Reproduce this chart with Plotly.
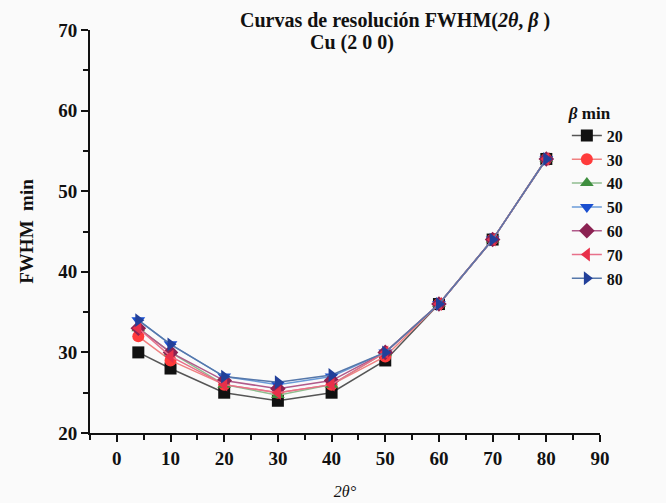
import plotly.graph_objects as go

two_theta = [4, 10, 20, 30, 40, 50, 60, 70, 80]
beta_labels = ["20", "30", "40", "50", "60", "70", "80"]
fwhm_b20 = [30, 28, 25, 24, 25, 29, 36, 44, 54]
fwhm_b30 = [32, 29, 26, 25, 26, 29.5, 36, 44, 54]
fwhm_b40 = [33, 30, 26, 24.7, 26, 30, 36, 44, 54]
fwhm_b50 = [34, 31, 27, 26, 27, 30, 36, 44, 54]
fwhm_b60 = [33, 30, 26.5, 25.5, 26.5, 30, 36, 44, 54]
fwhm_b70 = [33, 29.5, 26, 25, 26, 30, 36, 44, 54]
fwhm_b80 = [34, 31, 27, 26.3, 27.2, 30, 36, 44, 54]
series = [fwhm_b20, fwhm_b30, fwhm_b40, fwhm_b50, fwhm_b60, fwhm_b70, fwhm_b80]

symbols = ["square", "circle", "triangle-up", "triangle-down", "diamond", "triangle-left", "triangle-right"]
marker_colors = ["#111111", "#ff3b3b", "#3f8f3f", "#1a4fd0", "#8b2252", "#e8304a", "#22409a"]
line_colors = ["#555555", "#f08080", "#8fbc8f", "#6a9bd8", "#b05a8a", "#e8708a", "#5577aa"]

FONT = "Liberation Serif"

fig = go.Figure()
for lab, ys, sym, mc, lc in zip(beta_labels, series, symbols, marker_colors, line_colors):
    fig.add_trace(go.Scatter(
        x=two_theta, y=ys, name=lab, mode="lines+markers",
        line=dict(color=lc, width=1.5),
        marker=dict(symbol=sym, size=12, color=mc),
    ))

fig.update_layout(
    width=666, height=503,
    margin=dict(l=90, r=66, t=30, b=70),
    paper_bgcolor="#fafafa", plot_bgcolor="#fafafa",
    font=dict(family=FONT, size=18, color="#111111"),
    showlegend=True,
    legend=dict(
        x=0.935, y=0.835, xanchor="left", yanchor="top",
        bgcolor="rgba(0,0,0,0)",
        title=dict(text="<b><i>β</i> min</b>", font=dict(family=FONT, size=17)),
        font=dict(family=FONT, size=16, weight="bold"),
        tracegroupgap=0, itemwidth=30,
    ),
    xaxis=dict(
        range=[-5, 90], tickvals=[0, 10, 20, 30, 40, 50, 60, 70, 80, 90],
        automargin=False,
        showline=True, linecolor="#111111", linewidth=2,
        ticks="outside", ticklen=7, tickwidth=2, tickcolor="#111111",
        minor=dict(dtick=5, tick0=-5, ticks="outside", ticklen=5, tickwidth=1.5, tickcolor="#111111"),
        showgrid=False, zeroline=False,
        tickfont=dict(family=FONT, size=19, weight="bold"),
        title=dict(text="<i>2θ°</i>", font=dict(family=FONT, size=16), standoff=18),
    ),
    yaxis=dict(
        range=[20, 70], tickvals=[20, 30, 40, 50, 60, 70],
        automargin=False,
        showline=True, linecolor="#111111", linewidth=2,
        ticks="outside", ticklen=7, tickwidth=2, tickcolor="#111111",
        minor=dict(dtick=5, tick0=20, ticks="outside", ticklen=5, tickwidth=1.5, tickcolor="#111111"),
        showgrid=False, zeroline=False,
        tickfont=dict(family=FONT, size=19, weight="bold"),
        title=dict(text="<b>FWHM  min</b>", font=dict(family=FONT, size=19), standoff=20),
    ),
    annotations=[
        dict(text="<b>Curvas de resolución FWHM(<i>2θ</i>, <i>β</i> )</b>",
             xref="paper", yref="paper", x=(395 - 90) / 510, y=(433 - 21) / 403,
             xanchor="center", yanchor="middle", showarrow=False,
             font=dict(family=FONT, size=20)),
        dict(text="<b>Cu (2 0 0)</b>",
             xref="paper", yref="paper", x=(352 - 90) / 510, y=(433 - 43) / 403,
             xanchor="center", yanchor="middle", showarrow=False,
             font=dict(family=FONT, size=20)),
    ],
)

fig.write_html("out.html")
